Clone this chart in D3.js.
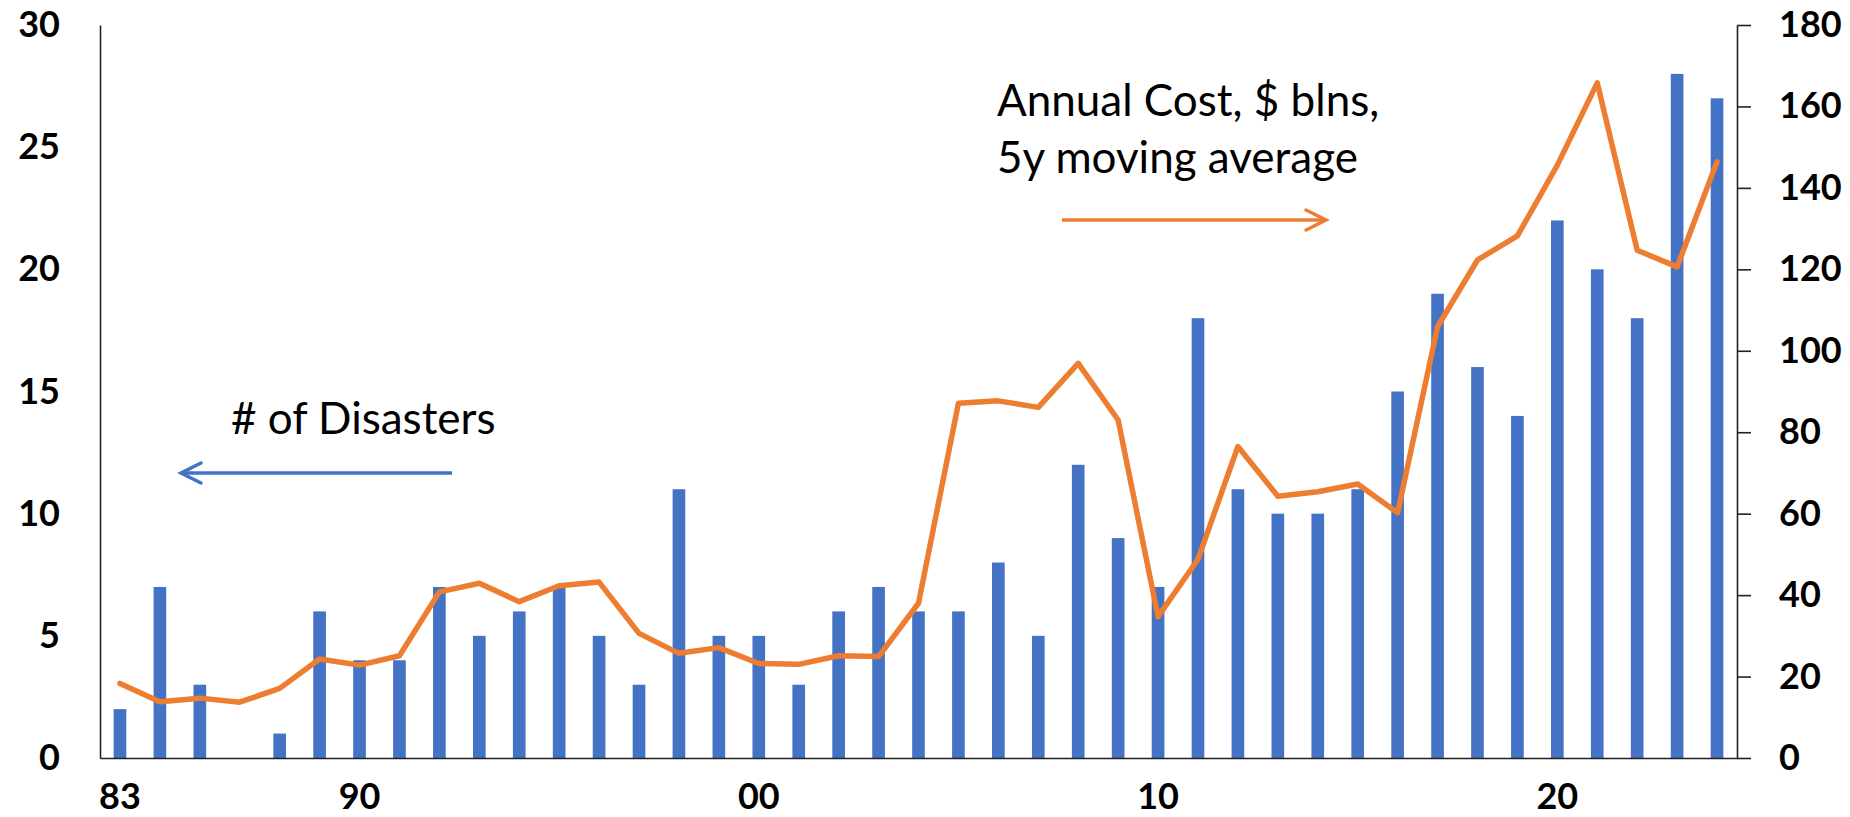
<!DOCTYPE html>
<html>
<head>
<meta charset="utf-8">
<script src="https://cdn.jsdelivr.net/npm/d3@7"></script>
<style>
  body { margin: 0; background: #fff; }
  svg text { font-family: Lato, "Open Sans", sans-serif; }
</style>
</head>
<body>
<div id="viz"></div>
<script>
const width = 1850;
const height = 817;
const margin = {top: 25, right: 113, bottom: 59, left: 100};

const barColor = '#4472C4';
const lineColor = '#ED7D31';

// years on the category axis
const years = d3.range(1984, 2025);

// number of disasters (left axis)
const disasters = [2, 7, 3, 0, 1, 6, 4, 4, 7, 5, 6, 7, 5, 3, 11, 5, 5, 3, 6, 7,
  6, 6, 8, 5, 12, 9, 7, 18, 11, 10, 10, 11, 15, 19, 16, 14, 22, 20, 18, 28, 27];

// annual cost, $ blns, 5y moving average (right axis)
const annualCost = [18.3, 13.8, 14.7, 13.7, 17.1, 24.3, 22.8, 25.1, 40.8, 42.9,
  38.4, 42.3, 43.2, 30.6, 25.7, 27.1, 23.2, 23.0, 25.1, 24.9, 38.0, 87.1, 87.7,
  86.1, 96.9, 83.0, 34.7, 48.8, 76.5, 64.3, 65.4, 67.3, 60.2, 105.9, 122.3,
  128.2, 145.6, 165.8, 124.7, 120.6, 146.4];

// x axis labels
const tickYears = [1984, 1990, 2000, 2010, 2020];
const tickLabels = ['83', '90', '00', '10', '20'];

const leftTicks = [0, 5, 10, 15, 20, 25, 30];
const rightTicks = [0, 20, 40, 60, 80, 100, 120, 140, 160, 180];

const data = years.map((y, i) => ({year: y, count: disasters[i], cost: annualCost[i]}));

const svg = d3.select('#viz')
  .append('svg')
    .attr('width', width)
    .attr('height', height)
    .attr('viewBox', [0, 0, width, height]);

let xScale = d3.scaleBand()
  .domain(years)
  .range([margin.left, width - margin.right])
  .paddingInner(0.683)
  .paddingOuter(0.3415);

let yLeft = d3.scaleLinear()
  .domain([0, 30])
  .range([height - margin.bottom, margin.top]);

let yRight = d3.scaleLinear()
  .domain([0, 180])
  .range([height - margin.bottom, margin.top]);

// bars
svg.append('g')
  .attr('fill', barColor)
  .selectAll('rect')
  .data(data)
  .join('rect')
    .attr('x', d => xScale(d.year))
    .attr('y', d => yLeft(d.count))
    .attr('width', xScale.bandwidth())
    .attr('height', d => yLeft(0) - yLeft(d.count));

// axes
const styleAxis = g => {
  g.select('.domain').attr('stroke', '#222').attr('stroke-width', 1.6);
  g.selectAll('.tick line').attr('stroke', '#222').attr('stroke-width', 1.6);
  g.selectAll('.tick text')
    .attr('fill', '#000')
    .attr('font-size', 36)
    .attr('font-weight', 700);
};

svg.append('g')
  .attr('transform', `translate(${margin.left},0)`)
  .call(d3.axisLeft(yLeft).tickValues(leftTicks).tickSize(0).tickPadding(40))
  .call(styleAxis);

svg.append('g')
  .attr('transform', `translate(${width - margin.right},0)`)
  .call(d3.axisRight(yRight).tickValues(rightTicks).tickSize(14).tickSizeOuter(0).tickPadding(28))
  .call(styleAxis);

svg.append('g')
  .attr('transform', `translate(0,${height - margin.bottom})`)
  .call(d3.axisBottom(xScale)
    .tickValues(tickYears)
    .tickFormat(d => tickLabels[tickYears.indexOf(d)])
    .tickSize(0)
    .tickPadding(25))
  .call(styleAxis);

// cost line
let lineGenerator = d3.line()
  .x(d => xScale(d.year) + xScale.bandwidth() / 2)
  .y(d => yRight(d.cost));

svg.append('path')
  .attr('d', lineGenerator(data))
  .attr('fill', 'none')
  .attr('stroke', lineColor)
  .attr('stroke-width', 5.5)
  .attr('stroke-linejoin', 'round')
  .attr('stroke-linecap', 'round');

// annotations
const arrow = (x1, x2, y, color) => {
  const dir = x2 > x1 ? -1 : 1;
  svg.append('line')
    .attr('x1', x1).attr('x2', x2)
    .attr('y1', y).attr('y2', y)
    .attr('stroke', color)
    .attr('stroke-width', 3.5);
  svg.append('path')
    .attr('d', `M${x2 + dir * 20},${y - 10}L${x2},${y}L${x2 + dir * 20},${y + 10}`)
    .attr('fill', 'none')
    .attr('stroke', color)
    .attr('stroke-width', 3.5)
    .attr('stroke-linecap', 'round');
};

svg.append('text')
  .attr('x', 997)
  .attr('y', 116)
  .attr('font-size', 44)
  .text('Annual Cost, $ blns,');

svg.append('text')
  .attr('x', 997)
  .attr('y', 173)
  .attr('font-size', 44)
  .text('5y moving average');

arrow(1062, 1326, 220, lineColor);

svg.append('text')
  .attr('x', 231)
  .attr('y', 434)
  .attr('font-size', 44)
  .text('# of Disasters');

arrow(452, 181, 473, barColor);
</script>
</body>
</html>
